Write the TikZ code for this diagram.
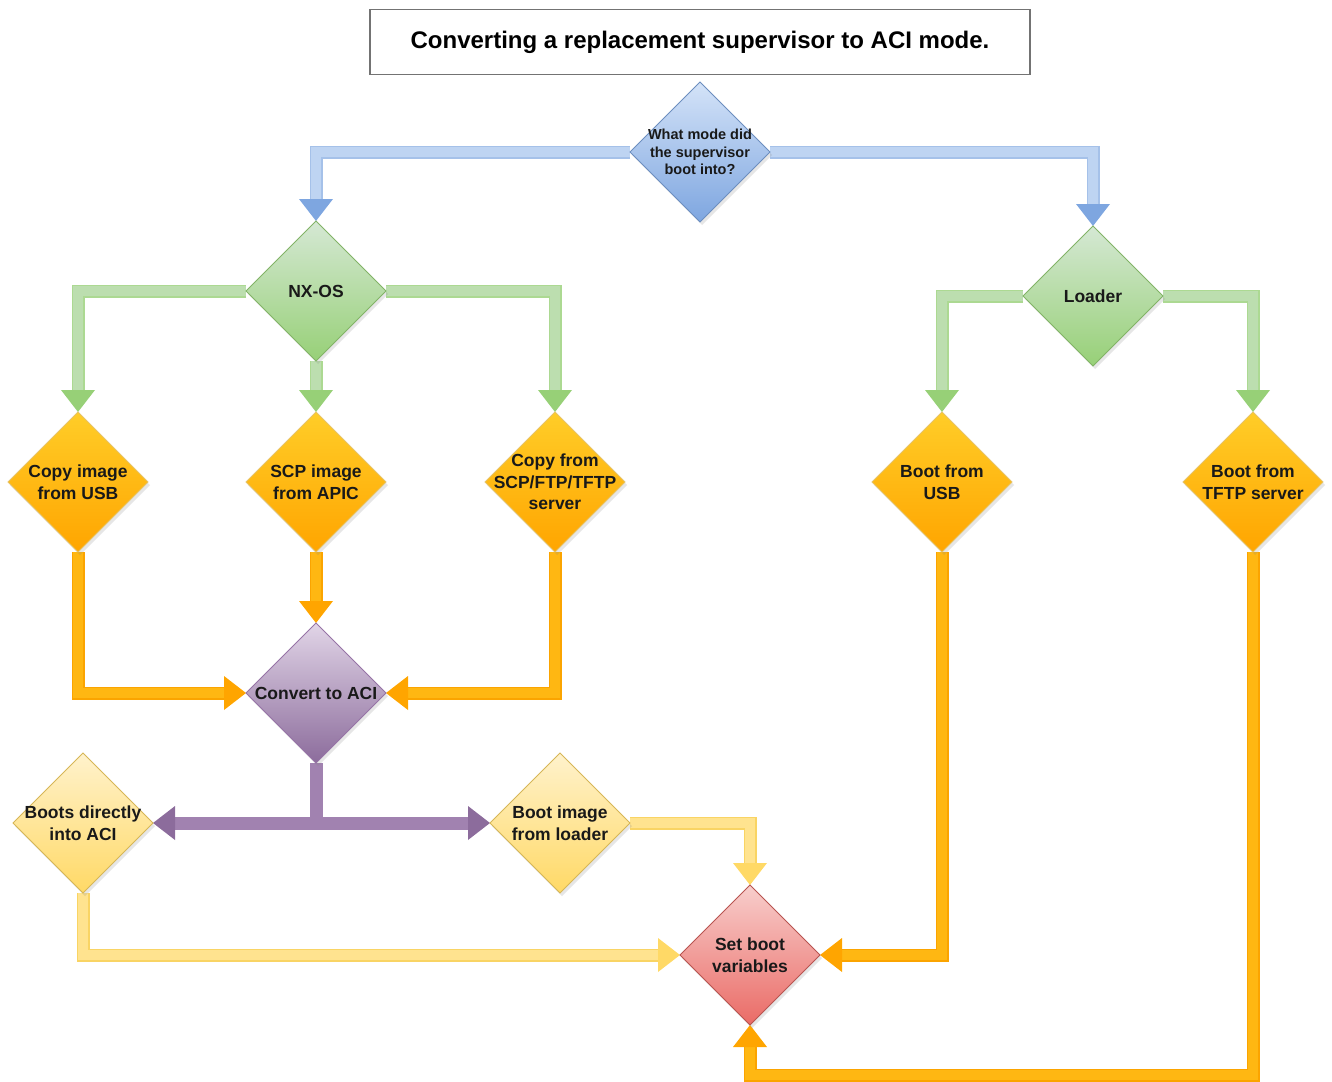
\documentclass[tikz,border=0pt]{standalone}
\usepackage{fontspec}
\setmainfont{Liberation Sans}
\usetikzlibrary{shapes.geometric,arrows.meta,backgrounds,shadows}
\definecolor{blB}{HTML}{6C8EBF}\definecolor{blT}{HTML}{D4E3F8}\definecolor{blM}{HTML}{7EA6E0}
\definecolor{grB}{HTML}{82B366}\definecolor{grT}{HTML}{D5E8D4}\definecolor{grM}{HTML}{97D077}
\definecolor{orB}{HTML}{D79B00}\definecolor{orT}{HTML}{FFCD28}\definecolor{orM}{HTML}{FFA500}
\definecolor{puB}{HTML}{9673A6}\definecolor{puT}{HTML}{E1D5E7}\definecolor{puM}{HTML}{8C6C9C}
\definecolor{yeB}{HTML}{D6B656}\definecolor{yeT}{HTML}{FFF2CC}\definecolor{yeM}{HTML}{FFD966}
\definecolor{rdB}{HTML}{B85450}\definecolor{rdT}{HTML}{F8CECC}\definecolor{rdM}{HTML}{EA6B66}
\begin{document}
\begin{tikzpicture}[x=1pt,y=-1pt,
  dia/.style={diamond, aspect=1, inner sep=0pt, outer sep=0pt,
    minimum width=140pt, minimum height=140pt, line width=1pt,
    drop shadow={shadow xshift=2pt, shadow yshift=-3pt, opacity=0.2}},
  dblue/.style={dia, draw=blB, top color=blT, bottom color=blM},
  dgreen/.style={dia, draw=grB, top color=grT, bottom color=grM},
  dorange/.style={dia, draw=orB!60, top color=orT, bottom color=orM},
  dpurple/.style={dia, draw=puB, top color=puT, bottom color=puM},
  dyellow/.style={dia, draw=yeB, top color=yeT, bottom color=yeM},
  dred/.style={dia, draw=rdB, top color=rdT, bottom color=rdM},
  txt/.style={align=center, text=black!90, inner sep=0pt,
    font=\bfseries\fontsize{17.5}{21.5}\selectfont},
  conn/.style={line width=10pt, line join=miter},
  edge/.style={preaction={draw=#1, line width=13pt, -, shorten >=21pt}},
  cblue/.style={conn, edge=blM!70, draw=blT!75!blM, -{Triangle[width=34pt,length=22pt,line width=0pt,color=blM]}},
  cgreen/.style={conn, edge=grM!80, draw=grT!60!grM, -{Triangle[width=34pt,length=22pt,line width=0pt,color=grM]}},
  corange/.style={conn, edge=orM!90!orB, draw=orT!45!orM, -{Triangle[width=34pt,length=22pt,line width=0pt,color=orM]}},
  cpurple/.style={conn, edge=puB!85!puT, draw=puB!85!puT, -{Triangle[width=34pt,length=22pt,line width=0pt,color=puM]}},
  cyellow/.style={conn, edge=yeM!85!yeB, draw=yeT!40!yeM, -{Triangle[width=34pt,length=22pt,line width=0pt,color=yeM]}}
]
\useasboundingbox (0,0) rectangle (1332,1081);

\node[draw=black!55, line width=1.5pt, fill=white, minimum width=660pt, minimum height=65pt,
  inner sep=0pt, font=\bfseries\fontsize{24}{28}\selectfont] (title) at (700,42)
  {Converting a replacement supervisor to ACI mode.};

\node[dblue, label={[txt, font=\bfseries\fontsize{14.5}{17.5}\selectfont]center:What mode did\\the supervisor\\boot into?}] (q) at (700,152) {};
\node[dgreen, label={[txt]center:NX-OS}] (nx) at (316,291) {};
\node[dgreen, label={[txt]center:Loader}] (ld) at (1093,296) {};
\node[dorange, label={[txt]center:Copy image\\from USB}] (c1) at (78,482) {};
\node[dorange, label={[txt]center:SCP image\\from APIC}] (c2) at (316,482) {};
\node[dorange, label={[txt]center:Copy from\\SCP/FTP/TFTP\\server}] (c3) at (555,482) {};
\node[dorange, label={[txt]center:Boot from\\USB}] (b1) at (942,482) {};
\node[dorange, label={[txt]center:Boot from\\TFTP server}] (b2) at (1253,482) {};
\node[dpurple, label={[txt]center:Convert to ACI}] (cv) at (316,693) {};
\node[dyellow, label={[txt]center:Boots directly\\into ACI}] (bd) at (83,823) {};
\node[dyellow, label={[txt]center:Boot image\\from loader}] (bi) at (560,823) {};
\node[dred, label={[txt]center:Set boot\\variables}] (sb) at (750,955) {};
\coordinate (lowrt) at (1253,1075);

\begin{scope}[on background layer]
\draw[cblue] (q.west) -| (nx.north);
\draw[cblue] (q.east) -| (ld.north);
\draw[cgreen] (nx.west) -| (c1.north);
\draw[cgreen] (nx.south) -- (c2.north);
\draw[cgreen] (nx.east) -| (c3.north);
\draw[cgreen] (ld.west) -| (b1.north);
\draw[cgreen] (ld.east) -| (b2.north);
\draw[corange] (c1.south) |- (cv.west);
\draw[corange] (c2.south) -- (cv.north);
\draw[corange] (c3.south) |- (cv.east);
\draw[cpurple] (cv.south) |- (bd.east);
\draw[cpurple] (cv.south) |- (bi.west);
\draw[cyellow] (bd.south) |- (sb.west);
\draw[cyellow] (bi.east) -| (sb.north);
\draw[corange] (b1.south) |- (sb.east);
\draw[corange] (b2.south) -- (lowrt) -| (sb.south);
\end{scope}
\end{tikzpicture}
\end{document}
